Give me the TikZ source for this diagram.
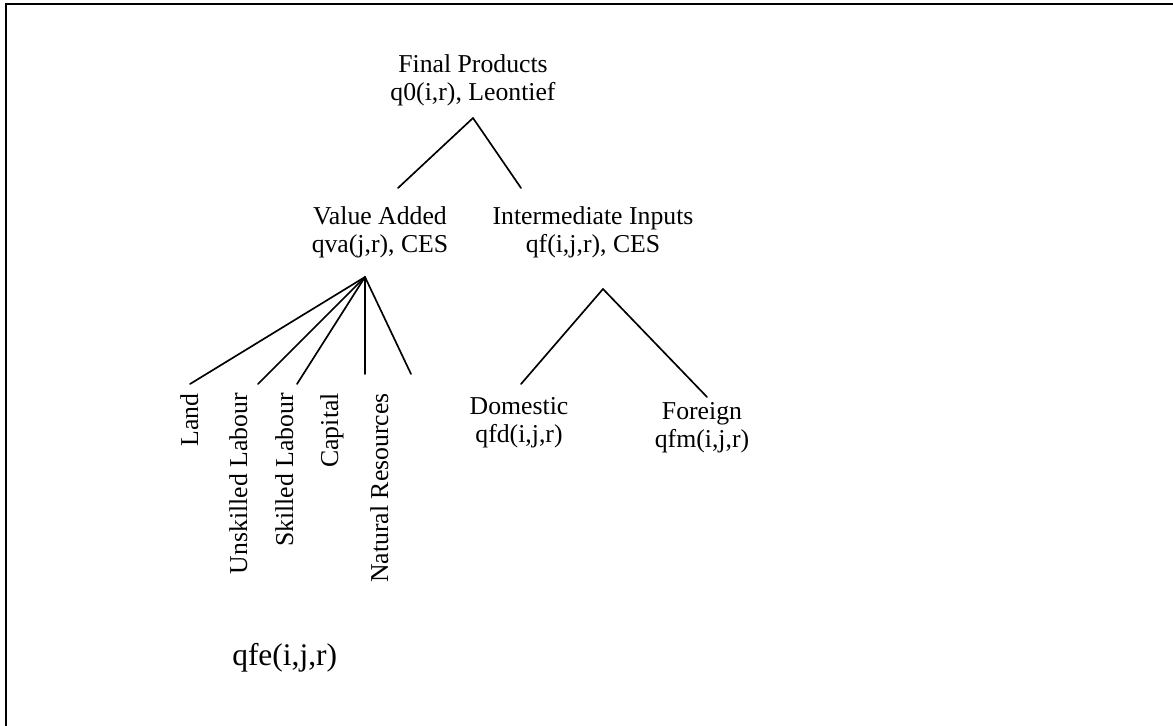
\documentclass[tikz,border=0pt]{standalone}
\usepackage{fontspec}
\setmainfont{Liberation Serif}
\begin{document}
\begin{tikzpicture}[x=0.75pt,y=-0.75pt,
  lbl/.style={inner sep=0pt,align=center,font=\fontsize{19.3}{21.4}\selectfont},
  rlbl/.style={inner sep=0pt,rotate=90,anchor=base east,font=\fontsize{19.3}{21.4}\selectfont},
  link/.style={line width=1.25pt,line cap=round}]
\useasboundingbox (0,0) rectangle (1173,725);
\begin{scope}
\clip (0,0) rectangle (1173,725);
\draw[line width=2.1pt] (6,4) rectangle (1200,760);
\end{scope}

% nodes
\node[lbl,anchor=north] (final) at (473,54) {Final Products\\q0(i,r), Leontief};
\node[lbl,anchor=north] (va) at (380,206) {Value Added\\qva(j,r), CES};
\node[lbl,anchor=north] (ii) at (593,206) {Intermediate Inputs\\qf(i,j,r), CES};
\node[lbl,anchor=north] (dom) at (519,397) {Domestic\\qfd(i,j,r)};
\node[lbl,anchor=north] (for) at (702,402) {Foreign\\qfm(i,j,r)};

\node[rlbl] (land) at (198,393) {Land};
\node[rlbl] (unsk) at (247,393) {Unskilled Labour};
\node[rlbl] (skil) at (293,393) {Skilled Labour};
\node[rlbl] (capi) at (338,393) {Capital};
\node[rlbl] (natr) at (388,393) {Natural Resources};

\node[inner sep=0pt,anchor=base west,font=\fontsize{23.6}{26}\selectfont] (qfe) at (232,665) {qfe(i,j,r)};

% connector end points
\coordinate (finalA) at (473,118);
\coordinate (vaTop) at (398,188);
\coordinate (iiTop) at (521,188);
\coordinate (vaA) at (365,277);
\coordinate (landE) at (190,384);
\coordinate (unskE) at (258,384);
\coordinate (skilE) at (297,384);
\coordinate (capiE) at (365,374);
\coordinate (natrE) at (411,374);
\coordinate (iiA) at (603,289);
\coordinate (domE) at (521,384);
\coordinate (forE) at (707,397);

\draw[link] (finalA) -- (vaTop);
\draw[link] (finalA) -- (iiTop);
\draw[link] (vaA) -- (landE);
\draw[link] (vaA) -- (unskE);
\draw[link] (vaA) -- (skilE);
\draw[link] (vaA) -- (capiE);
\draw[link] (vaA) -- (natrE);
\draw[link] (iiA) -- (domE);
\draw[link] (iiA) -- (forE);
\end{tikzpicture}
\end{document}
